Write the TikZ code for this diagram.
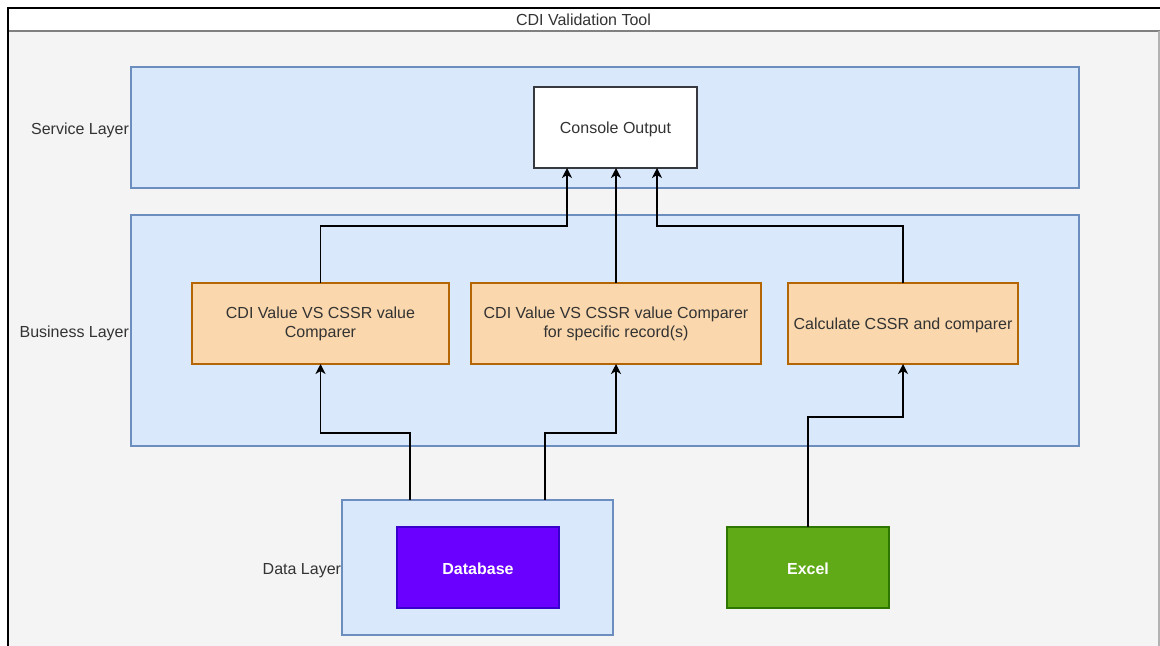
\documentclass[tikz,border=0pt]{standalone}
\usepackage{fontspec}
\setmainfont{Liberation Sans}
\usetikzlibrary{arrows.meta}

\definecolor{layerfill}{HTML}{DAE8FC}
\definecolor{layerline}{HTML}{6C8EBF}
\definecolor{procfill}{HTML}{FAD7AC}
\definecolor{procline}{HTML}{B46504}
\definecolor{dbfill}{HTML}{6A00FF}
\definecolor{dbline}{HTML}{3700CC}
\definecolor{xlfill}{HTML}{60A917}
\definecolor{xlline}{HTML}{2D7600}
\definecolor{bodyfill}{HTML}{F4F4F4}
\definecolor{inktext}{HTML}{333333}
\definecolor{consoleline}{HTML}{36393D}

\begin{document}
\begin{tikzpicture}[
  x=0.75pt, y=-0.75pt,
  font=\fontsize{12}{14.4}\selectfont,
  every node/.style={inner sep=0pt, outer sep=0pt},
  layer/.style={rectangle, draw=layerline, fill=layerfill, line width=1pt},
  box/.style={rectangle, align=center, text=inktext, line width=1pt,
              minimum height=60.75pt,
              execute at begin node={\rule{0pt}{11pt}}},
  proc/.style={box, draw=procline, fill=procfill},
  store/.style={box, text=white, font=\fontsize{12}{14.4}\selectfont\bfseries,
                minimum width=121.5pt},
  tag/.style={anchor=east, text=inktext},
  conn/.style={draw=black, line width=1pt,
               -{Stealth[length=7.5pt, width=7.5pt, inset=2.2pt]}},
]
\useasboundingbox (0,0) rectangle (1160,646);

% container: white title band over a light grey body
\fill[white] (0,0) rectangle (1160,646);
\fill[bodyfill] (8,31) rectangle (1159,646);
\draw[gray, line width=1.1pt] (8,31) -- (1160,31);
\draw[gray!60, line width=1pt] (1159,31) -- (1159,646);
\draw[black, line width=2.2pt, line join=miter] (1160,8) -- (8,8) -- (8,646);
\node[text=inktext] (title) at (583.5,19.5) {CDI Validation Tool};

% layer bands
\node[layer, minimum width=711pt, minimum height=90.75pt] (svc) at (605,127.5) {};
\node[layer, minimum width=711pt, minimum height=173.25pt] (biz) at (605,330.5) {};
\node[layer, minimum width=203.25pt, minimum height=101.25pt] (dat) at (477.5,567.5) {};

\node[tag] (svclbl) at (129,130) {Service Layer};
\node[tag] (bizlbl) at (129,333) {Business Layer};
\node[tag] (datlbl) at (341,570.5) {Data Layer};

% service layer
\node[box, draw=consoleline, fill=white, minimum width=122.25pt] (con) at (615.5,127.5) {Console Output};

% business layer
\node[proc, minimum width=192.75pt] (b1) at (320.5,323.5) {CDI Value VS CSSR value\\Comparer};
\node[proc, minimum width=217.5pt] (b2) at (616,323.5) {CDI Value VS CSSR value Comparer\\for specific record(s)};
\node[proc, minimum width=172.5pt] (b3) at (903,323.5) {Calculate CSSR and comparer};

% data sources
\node[store, draw=dbline, fill=dbfill] (db) at (478,567.5) {Database};
\node[store, draw=xlline, fill=xlfill] (xl) at (808,567.5) {Excel};

% results flowing up to the console
\draw[conn] (b1.north) -- ++(0,-57) -| ([xshift=24.75pt]con.south west);
\draw[conn] (b2.north) -- (b2.north |- con.south);
\draw[conn] (b3.north) -- ++(0,-57) -| ([xshift=-30pt]con.south east);

% data feeding the comparers
\draw[conn] ([xshift=51pt]dat.north west) -- ++(0,-67) -| (b1.south);
\draw[conn] ([xshift=152.25pt]dat.north west) -- ++(0,-67) -| (b2.south);
\draw[conn] (xl.north) -- ++(0,-110) -| (b3.south);
\end{tikzpicture}
\end{document}
